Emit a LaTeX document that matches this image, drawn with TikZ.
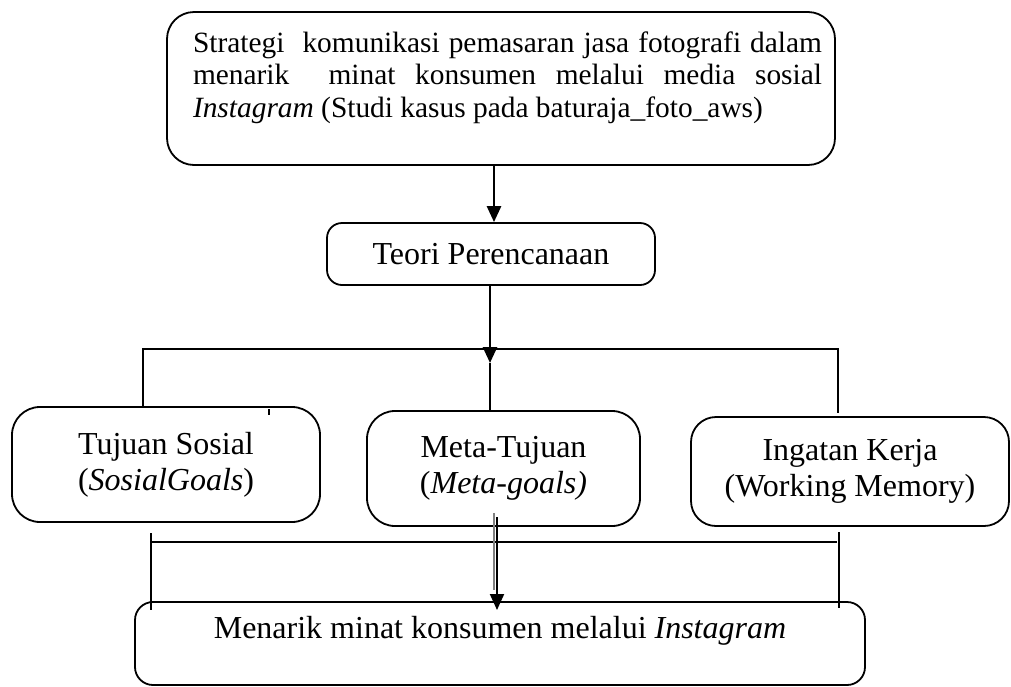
\documentclass[tikz,border=0pt]{standalone}
\usepackage{fontspec}
\setmainfont{Liberation Serif}
\usetikzlibrary{arrows.meta}
\begin{document}
\begin{tikzpicture}[x=1pt,y=-1pt,
  box/.style={draw,line width=1.8pt,rounded corners=#1,inner sep=0pt,align=center},
  box/.default=25pt,
  txt/.style={font=\fontsize{32}{36}\selectfont},
  conn/.style={line width=1.6pt},
  arr/.style={line width=2.6pt,-{Triangle[length=16pt,width=14pt]}},
]
\useasboundingbox (0,0) rectangle (1011,686);

% boxes
\node[box=27pt,minimum width=668pt,minimum height=153pt] (top) at (501,88.5) {};
\node[font=\fontsize{29.4}{32.6}\selectfont,text width=629pt,align=justify,inner sep=0pt] (toptxt) at (507.5,77.7)
  {Strategi\ \ komunikasi pemasaran jasa fotografi dalam\linebreak
   menarik\ \ minat konsumen melalui media sosial\linebreak
   \textit{Instagram} (Studi kasus pada baturaja\_foto\_aws)};

\node[box=15pt,txt,minimum width=328pt,minimum height=62pt] (teori) at (491,254) {Teori Perencanaan};

\node[box=28pt,txt,minimum width=308pt,minimum height=115pt] (tujuan) at (166,464.5)
  {Tujuan Sosial\\(\textit{SosialGoals})};
\node[box=28pt,txt,minimum width=273pt,minimum height=115pt] (meta) at (503.5,468.5)
  {Meta-Tujuan\\(\textit{Meta-goals)}};
\node[box=25pt,txt,minimum width=318pt,minimum height=109pt] (ingatan) at (850,471.5)
  {Ingatan Kerja\\(Working Memory)};

\node[box=18pt,txt,minimum width=730pt,minimum height=83pt,text height=21pt,text depth=32pt] (bottom) at (500,643.5)
  {Menarik minat konsumen melalui \textit{Instagram}};

% helper coordinates
\coordinate (xa) at (494,0);
\coordinate (xb) at (490,0);
\coordinate (hl) at (143,349);
\coordinate (hr) at (838,349);
\coordinate (tip1) at (490,363);
\coordinate (rend) at (838,413);
\coordinate (ll) at (151,533);
\coordinate (lb) at (151,610);
\coordinate (hl2) at (152,542);
\coordinate (hr2) at (837,542);
\coordinate (rt) at (839,532);
\coordinate (rb) at (839,608);
\coordinate (g1) at (494,513);
\coordinate (g2) at (494,590);
\coordinate (k1) at (497,517);
\coordinate (tip2) at (497,610);

% connectors
\draw[arr] (top.south -| xa) -- (teori.north -| xa);
\draw[arr] (teori.south -| xb) -- (tip1);
\draw[conn] (tujuan.north -| hl) -- (hl) -- (hr) -- (rend);
\draw[conn] (tip1) -- (meta.north -| xb);
\draw[line width=1.4pt] (269,409) -- (269,415);

\draw[conn] (ll) -- (lb);
\draw[conn] (hl2) -- (hr2);
\draw[conn] (rt) -- (rb);
\draw[line width=1.6pt,gray] (g1) -- (g2);
\draw[arr,line width=2pt] (k1) -- (tip2);
\end{tikzpicture}
\end{document}
